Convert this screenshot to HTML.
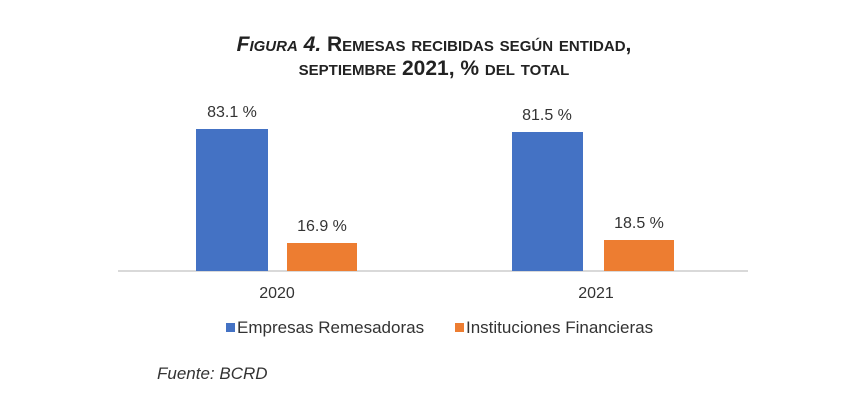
<!DOCTYPE html>
<html><head><style>
body{margin:0;width:848px;height:410px;background:#fff;font-family:"Liberation Sans",Arial,sans-serif;overflow:hidden}
.a{position:absolute}
.t{position:absolute;left:0;width:868px;text-align:center;font-weight:bold;font-variant:small-caps;font-size:21px;color:#222;white-space:nowrap}
.lbl{position:absolute;font-size:16px;color:#333;text-align:center;width:100px}
</style></head><body>
<div class="t" style="top:33px"><i>Figura 4.</i> Remesas recibidas según entidad,</div>
<div class="t" style="top:57px;width:868px">septiembre 2021, % del total</div>
<div class="a" style="left:118px;top:270px;width:630px;height:2px;background:#d9d9d9"></div>
<div class="a" style="left:196px;top:129px;width:72px;height:142px;background:#4472c4"></div>
<div class="a" style="left:287px;top:243px;width:70px;height:28px;background:#ed7d31"></div>
<div class="a" style="left:512px;top:132px;width:71px;height:139px;background:#4472c4"></div>
<div class="a" style="left:604px;top:240px;width:70px;height:31px;background:#ed7d31"></div>
<div class="lbl" style="left:182px;top:104px">83.1 %</div>
<div class="lbl" style="left:272px;top:218px">16.9 %</div>
<div class="lbl" style="left:497px;top:107px">81.5 %</div>
<div class="lbl" style="left:589px;top:215px">18.5 %</div>
<div class="lbl" style="left:227px;top:285px">2020</div>
<div class="lbl" style="left:546px;top:285px">2021</div>
<div class="a" style="left:226px;top:323px;width:9px;height:9px;background:#4472c4"></div>
<div class="a" style="left:237px;top:318px;font-size:17px;color:#333">Empresas Remesadoras</div>
<div class="a" style="left:455px;top:323px;width:9px;height:9px;background:#ed7d31"></div>
<div class="a" style="left:466px;top:318px;font-size:17px;color:#333">Instituciones Financieras</div>
<div class="a" style="left:157px;top:364px;font-size:17px;font-style:italic;color:#333">Fuente: BCRD</div>
</body></html>
